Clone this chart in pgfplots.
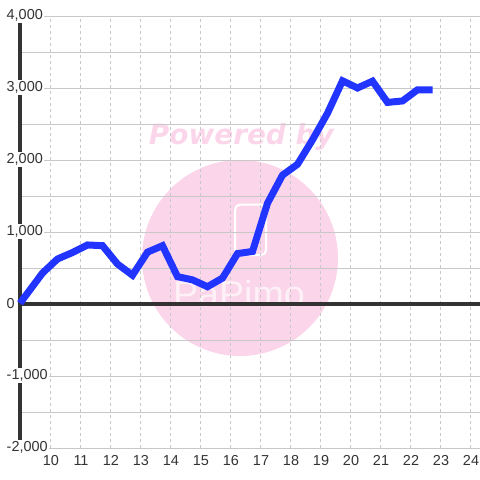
\documentclass[border=0pt]{standalone}
\usepackage{pgfplots}
\pgfplotsset{compat=1.18}
\usepackage{fontspec}
\setmainfont{Liberation Sans}
\newfontfamily\dejavu{DejaVu Sans}

\definecolor{serie}{RGB}{34,52,255}
\definecolor{gridc}{RGB}{200,200,200}
\definecolor{axisc}{RGB}{51,51,51}
\definecolor{wmpink}{RGB}{251,214,234}

\begin{document}
\begin{tikzpicture}
\begin{axis}[
  set layers,
  scale only axis,
  width=460bp, height=432bp,
  xmin=9, xmax=24.3333,
  ymin=-2000, ymax=4000,
  clip=false,
  axis line style={draw=none},
  major tick length=0pt, minor tick length=0pt,
  xtick={10,...,24},
  ytick={-2000,-1000,0,1000,2000,3000,4000},
  yticklabels={{-2,000},{-1,000},{0},{1,000},{2,000},{3,000},{4,000}},
  minor ytick={-1500,-500,500,1500,2500,3500},
  xmajorgrids, ymajorgrids, yminorgrids,
  x grid style={gridc, line width=1bp, dash pattern=on 3bp off 3bp},
  y grid style={gridc, line width=1bp},
  minor y grid style={gridc, line width=1bp},
  /pgf/number format/assume math mode=true,
  tick label style={font=\fontsize{14.5}{17}\selectfont, text=axisc},
  yticklabel style={anchor=west, xshift=-15bp, yshift=0.8bp, inner sep=1.5bp, fill=white},
  xticklabel style={anchor=north, inner sep=0pt, xshift=1bp, yshift=-7bp},
]
\begin{pgfonlayer}{axis background}
  \fill[wmpink] (axis cs:16.333,639) circle[radius=98bp];
  \node[text=wmpink, anchor=base, inner sep=0pt,
        font=\dejavu\bfseries\itshape\fontsize{28}{30}\selectfont]
        at (axis cs:16.38,2222) {Powered by};
  \draw[white, line width=2bp, rounded corners=5bp]
        (axis cs:16.17,680) rectangle (axis cs:17.2,1380);
  \node[text=white, text opacity=0.65, anchor=base, inner sep=0pt, xscale=1.05,
        font=\fontsize{36}{38}\selectfont]
        at (axis cs:16.3,-30) {PaPimo};
\end{pgfonlayer}
\begin{pgfonlayer}{axis lines}
  \draw[axisc, line width=3.4bp] (axis cs:9,0) -- (axis cs:24.3333,0);
  \draw[axisc, line width=3.4bp] (axis cs:9,-2000) -- (axis cs:9,4000);
\end{pgfonlayer}
\addplot[serie, line width=7bp, line join=miter, on layer=axis foreground] coordinates {
  (9.0,10) (9.75,430) (10.25,625) (10.75,715) (11.25,820) (11.75,810)
  (12.25,555) (12.75,400) (13.25,720) (13.75,810) (14.25,380) (14.75,335)
  (15.25,240) (15.75,360) (16.25,700) (16.75,730) (17.25,1400) (17.75,1790)
  (18.25,1940) (18.75,2280) (19.25,2650) (19.75,3100) (20.25,3000) (20.75,3095)
  (21.25,2800) (21.75,2820) (22.25,2975) (22.75,2975)
};
\end{axis}
\pgfresetboundingbox
\useasboundingbox (-20bp,-32bp) rectangle (460bp,448bp);
\end{tikzpicture}
\end{document}
